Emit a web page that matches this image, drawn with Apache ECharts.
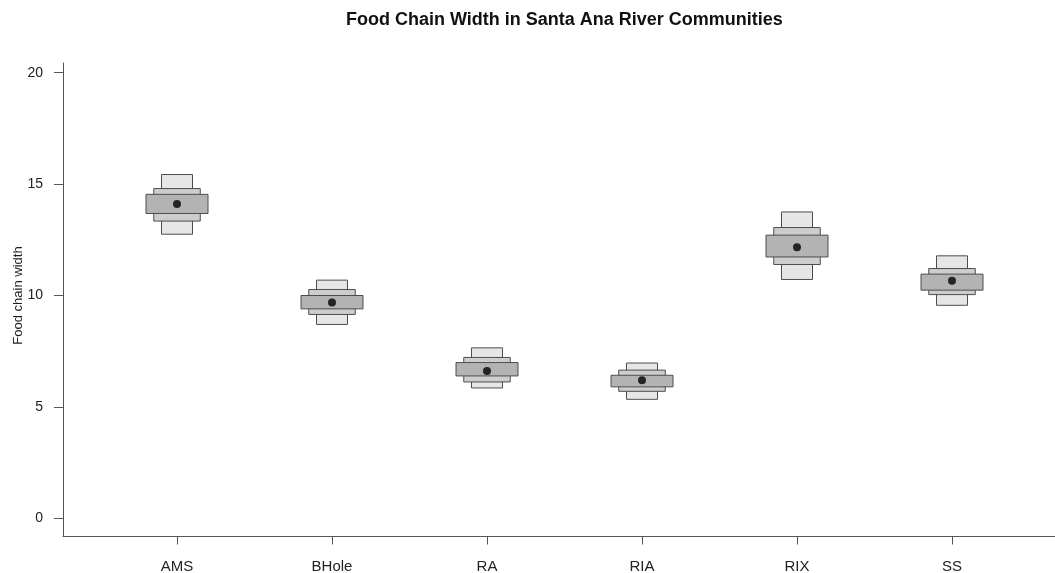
<!DOCTYPE html>
<html>
<head>
<meta charset="utf-8">
<script src="https://cdn.jsdelivr.net/npm/echarts@6/dist/echarts.min.js"></script>
<style>
html,body{margin:0;padding:0;background:#fff;}
#chart{width:1055px;height:573px;}
</style>
</head>
<body>
<div id="chart"></div>
<script>
const categories = ['AMS', 'BHole', 'RA', 'RIA', 'RIX', 'SS'];
const modeVals = [14.11, 9.69, 6.61, 6.20, 12.17, 10.66];
const lo95 = [12.75, 8.70, 5.85, 5.34, 10.72, 9.56];
const hi95 = [15.43, 10.69, 7.65, 6.97, 13.75, 11.78];
const lo75 = [13.34, 9.15, 6.12, 5.70, 11.39, 10.04];
const hi75 = [14.80, 10.27, 7.22, 6.65, 13.05, 11.21];
const lo50 = [13.68, 9.40, 6.39, 5.90, 11.73, 10.24];
const hi50 = [14.54, 10.00, 6.99, 6.42, 12.71, 10.96];
const yTicks = [0, 5, 10, 15, 20];

const chart = echarts.init(document.getElementById('chart'), null, {renderer: 'canvas'});

const DATA_GRID = 1;

function boxSeries(lo, hi, frac, fill) {
  return {
    type: 'custom',
    xAxisIndex: DATA_GRID,
    yAxisIndex: DATA_GRID,
    encode: {x: 0, y: [1, 2]},
    data: categories.map((c, i) => [i, lo[i], hi[i]]),
    renderItem: function (params, api) {
      const x = api.value(0);
      const pTop = api.coord([x, api.value(2)]);
      const pBot = api.coord([x, api.value(1)]);
      const bw = api.size([1, 0])[0] * frac;
      return {
        type: 'rect',
        shape: {x: pTop[0] - bw / 2, y: pTop[1], width: bw, height: pBot[1] - pTop[1]},
        style: {fill: fill, stroke: '#4d4d4d', lineWidth: 1}
      };
    },
    z: 2
  };
}

const axisColor = '#555555';
const font = 'Liberation Sans, Arial, sans-serif';
const hidden = {
  axisLine: {show: false}, axisTick: {show: false}, axisLabel: {show: false}, splitLine: {show: false}
};

const option = {
  animation: false,
  backgroundColor: '#ffffff',
  title: {
    text: 'Food Chain Width in Santa Ana River Communities',
    left: 341,
    top: 6,
    textStyle: {fontFamily: font, fontSize: 18, fontWeight: 'bold', color: '#111'}
  },
  grid: [
    {left: 63, right: 0, top: 63, bottom: 36.5, outerBoundsMode: 'none'},
    {left: 99.5, right: 25.5, top: 72.7, bottom: 54.7, outerBoundsMode: 'none'},
    {left: 99.5, right: 25.5, top: 63, bottom: 36.5, outerBoundsMode: 'none'},
    {left: 63, right: 0, top: 72.7, bottom: 54.7, outerBoundsMode: 'none'}
  ],
  xAxis: [
    Object.assign({gridIndex: 0, type: 'value', min: 0, max: 1}, hidden,
      {axisLine: {show: true, lineStyle: {color: axisColor, width: 1}}}),
    Object.assign({gridIndex: 1, type: 'category', data: categories, boundaryGap: true}, hidden),
    Object.assign({gridIndex: 2, type: 'category', data: categories, boundaryGap: true}, hidden, {
      axisTick: {show: true, alignWithLabel: true, length: 8, lineStyle: {color: axisColor}},
      axisLabel: {show: true, margin: 23, fontFamily: font, fontSize: 15, color: '#222'}
    }),
    Object.assign({gridIndex: 3, type: 'value', min: 0, max: 1}, hidden)
  ],
  yAxis: [
    Object.assign({gridIndex: 0, type: 'value', min: 0, max: 1}, hidden,
      {axisLine: {show: true, lineStyle: {color: axisColor, width: 1}}}),
    Object.assign({gridIndex: 1, type: 'value', min: yTicks[0], max: yTicks[yTicks.length - 1], interval: 5}, hidden),
    Object.assign({gridIndex: 2, type: 'value', min: 0, max: 1}, hidden),
    Object.assign({gridIndex: 3, type: 'value', min: yTicks[0], max: yTicks[yTicks.length - 1], interval: 5}, hidden, {
      name: 'Food chain width',
      nameLocation: 'middle',
      nameGap: 38,
      nameMoveOverlap: false,
      nameTextStyle: {fontFamily: font, fontSize: 13, color: '#222'},
      axisTick: {show: true, length: 9, lineStyle: {color: axisColor}},
      axisLabel: {show: true, margin: 20, fontFamily: font, fontSize: 14, color: '#222'}
    })
  ],
  series: [
    boxSeries(lo95, hi95, 0.2, '#e6e6e6'),
    boxSeries(lo75, hi75, 0.3, '#cdcdcd'),
    boxSeries(lo50, hi50, 0.4, '#b3b3b3'),
    {
      type: 'scatter',
      xAxisIndex: DATA_GRID,
      yAxisIndex: DATA_GRID,
      data: categories.map((c, i) => [i, modeVals[i]]),
      symbol: 'circle',
      symbolSize: 8,
      itemStyle: {color: '#000000'},
      z: 5
    }
  ]
};
chart.setOption(option);
</script>
</body>
</html>
